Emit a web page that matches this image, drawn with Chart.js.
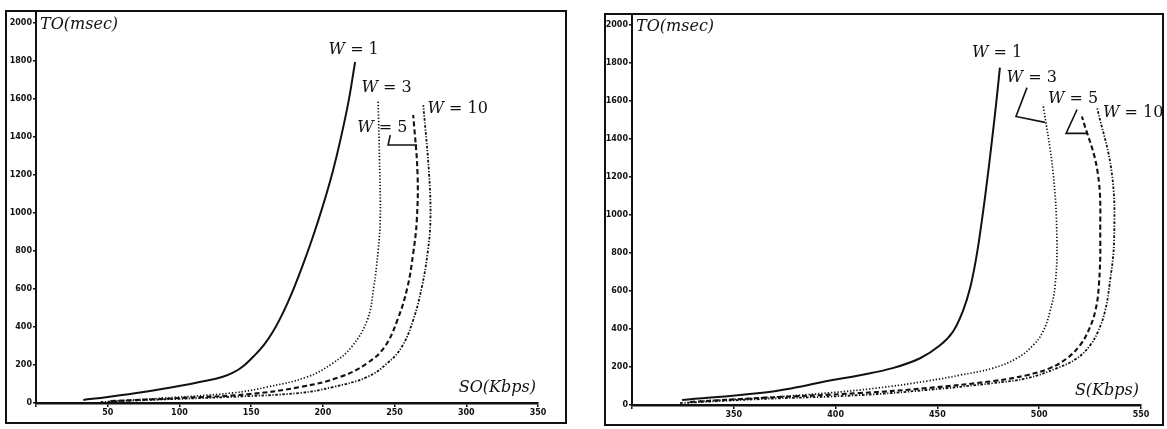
<!DOCTYPE html>
<html>
<head>
<meta charset="utf-8">
<script src="https://cdn.jsdelivr.net/npm/chart.js@4.4.1/dist/chart.umd.min.js"></script>
<style>
  html, body { margin: 0; background: #fff; }
  #wrap { position: relative; width: 1167px; height: 429px; }
  #wrap canvas { position: absolute; top: 0; }
</style>
</head>
<body>
<div id="wrap">
  <canvas id="chartSO" width="580" height="429" style="left:0"></canvas>
  <canvas id="chartS" width="587" height="429" style="left:580px"></canvas>
</div>
<script>
//Data: TO (msec) against offered load, one curve per window size W
const windows = [1, 3, 5, 10];

//left panel, SO (Kbps)
const so_w1_x = [33, 50, 79.5, 114, 137, 154, 164.6, 175.7, 186, 196, 207, 217, 222.5];
const so_w1_y = [16, 32, 63, 110, 158, 263, 368, 532, 726, 942, 1221, 1552, 1795];
const so_w3_x = [52, 79, 137, 161, 189, 207, 220, 231, 235.5, 238.5, 240, 239.5, 238.5];
const so_w3_y = [10, 21, 53, 84, 137, 210, 295, 437, 610, 800, 963, 1279, 1595];
const so_w5_x = [52, 100, 149, 184, 212, 231, 243, 252, 259, 263, 265.5, 266, 263];
const so_w5_y = [10, 26, 47, 84, 137, 210, 295, 437, 610, 789, 963, 1210, 1516];
const so_w10_x = [45, 79, 135, 184, 207, 231, 245, 255, 263, 269, 273, 275, 274, 270];
const so_w10_y = [5, 16, 32, 53, 84, 137, 210, 295, 437, 610, 789, 963, 1210, 1568];

//right panel, S (Kbps)
const s_w1_x = [324.6, 362.9, 379, 395.8, 412, 428, 441.5, 451.3, 457.7, 462.6, 466, 469, 471.4, 473.9, 476.3, 478.8, 480.7];
const s_w1_y = [26, 63, 89, 126, 157, 194, 246, 314, 387, 497, 613, 770, 937, 1136, 1346, 1581, 1775];
const s_w3_x = [333.4, 362.9, 395.8, 420.3, 444.9, 461, 477.3, 489, 497, 501.9, 505.3, 507.8, 508.7, 506.8, 501.9];
const s_w3_y = [21, 37, 63, 89, 126, 157, 194, 246, 314, 387, 492, 628, 874, 1225, 1581];
const s_w5_x = [328.5, 362.9, 412, 444.9, 477.3, 494, 505.3, 513.7, 520, 524, 527.5, 529.3, 530, 528.7, 521];
const s_w5_y = [16, 37, 63, 89, 126, 157, 194, 246, 314, 387, 492, 628, 874, 1225, 1518];
const s_w10_x = [323.6, 362.9, 412, 444.9, 477.3, 494, 508.8, 518.6, 525, 528.9, 532.3, 534.5, 536.8, 535.6, 528.4];
const s_w10_y = [10, 31, 52, 79, 115, 141, 194, 246, 314, 387, 492, 628, 874, 1225, 1566];

//axis ranges and tick steps
const so_ticks = [0, 350, 50];
const s_ticks = [300, 550, 50];
const to_ticks = [0, 2000, 200];

//curve labels "W = n" (data coords of the label's left/middle) and their pointer lines
const so_label_pos = [[204, 1858], [227, 1658], [224, 1447], [273, 1547]];
const so_pointers = [[[247, 1410], [245.5, 1358], [265.7, 1358]]];
const s_label_pos = [[467, 1854], [484, 1723], [504.3, 1613], [531.3, 1539]];
const s_pointers = [[[494, 1670], [488.6, 1518], [502.8, 1487]], [[518.6, 1555], [513.2, 1429], [523.5, 1429]]];

const ink = '#111';
const serif = "'DejaVu Serif', 'Liberation Serif', serif";

//line style for each W
const styles = [
  { borderWidth: 2, borderDash: [] },
  { borderWidth: 1.7, borderDash: [1.3, 1.9] },
  { borderWidth: 2.1, borderDash: [5, 3] },
  { borderWidth: 1.8, borderDash: [2.6, 1.6, 1.2, 1.6] }
];

function toPoints(xs, ys) {
  return xs.map((x, i) => ({ x: x, y: ys[i] }));
}

function makeDatasets(series) {
  return series.map((s, i) => ({
    label: 'W = ' + windows[i],
    data: toPoints(s[0], s[1]),
    showLine: true,
    borderColor: ink,
    borderWidth: styles[i].borderWidth,
    borderDash: styles[i].borderDash,
    pointRadius: 0,
    tension: 0.4,
    fill: false
  }));
}

//outer box round each panel
const framePlugin = {
  id: 'frame',
  afterDraw(chart, args, opts) {
    const c = chart.ctx;
    c.save();
    c.strokeStyle = ink;
    c.lineWidth = 2;
    c.strokeRect(opts.x, opts.y, opts.w, opts.h);
    c.restore();
  }
};

//axis names written inside the plot corners
const axisNamePlugin = {
  id: 'axisNames',
  afterDraw(chart, args, opts) {
    const c = chart.ctx, a = chart.chartArea;
    const yTop = chart.scales.y.getPixelForValue(2000);
    c.save();
    c.fillStyle = ink;
    c.font = 'italic 16px ' + serif;
    c.textBaseline = 'middle';
    c.textAlign = 'left';
    c.fillText(opts.yName, a.left + 4, yTop + 2);
    c.textAlign = 'right';
    c.fillText(opts.xName, a.right - 2, a.bottom - opts.xNameUp);
    c.restore();
  }
};

//"W = n" labels and the small pointer lines
const curveLabelPlugin = {
  id: 'curveLabels',
  afterDraw(chart, args, opts) {
    const c = chart.ctx, xs = chart.scales.x, ys = chart.scales.y;
    c.save();
    c.fillStyle = ink;
    c.textBaseline = 'middle';
    c.textAlign = 'left';
    opts.pos.forEach((p, i) => {
      let px = xs.getPixelForValue(p[0]), py = ys.getPixelForValue(p[1]);
      c.font = 'italic 16px ' + serif;
      c.fillText('W', px, py);
      px += c.measureText('W').width;
      c.font = '16px ' + serif;
      c.fillText(' = ' + windows[i], px, py);
    });
    c.strokeStyle = ink;
    c.lineWidth = 1.6;
    opts.pointers.forEach(line => {
      c.beginPath();
      line.forEach((p, j) => {
        const px = xs.getPixelForValue(p[0]), py = ys.getPixelForValue(p[1]);
        if (j == 0) c.moveTo(px, py); else c.lineTo(px, py);
      });
      c.stroke();
    });
    c.restore();
  }
};

function makeChart(id, series, xt, yMax, pad, frame, names, labels) {
  const tickFont = { family: "'DejaVu Sans', sans-serif", size: 8, weight: 'bold' };
  return new Chart(document.getElementById(id), {
    type: 'scatter',
    data: { datasets: makeDatasets(series) },
    options: {
      responsive: false,
      animation: false,
      layout: { padding: pad },
      plugins: {
        legend: { display: false },
        tooltip: { enabled: false },
        frame: frame,
        axisNames: names,
        curveLabels: labels
      },
      scales: {
        x: {
          type: 'linear',
          min: xt[0], max: xt[1],
          ticks: {
            stepSize: xt[2], color: ink, font: tickFont, padding: 1, maxRotation: 0,
            callback: v => (v == xt[0] ? '' : String(v))
          },
          grid: { drawOnChartArea: false, tickLength: 4, color: ink, lineWidth: 1.5 },
          border: { color: ink, width: 2.5 },
          afterFit: s => { s.height = 20 }
        },
        y: {
          type: 'linear',
          min: to_ticks[0], max: yMax,
          afterBuildTicks: s => { s.ticks = s.ticks.filter(t => t.value <= to_ticks[1]) },
          ticks: { stepSize: to_ticks[2], color: ink, font: tickFont, padding: 1, callback: v => String(v) },
          grid: { drawOnChartArea: false, tickLength: 3, color: ink, lineWidth: 1.5 },
          border: { color: ink, width: 2 },
          afterFit: s => { s.width = 30 }
        }
      }
    },
    plugins: [framePlugin, axisNamePlugin, curveLabelPlugin]
  });
}

//Start Chart Setup
const chartSO = makeChart('chartSO',
  [[so_w1_x, so_w1_y], [so_w3_x, so_w3_y], [so_w5_x, so_w5_y], [so_w10_x, so_w10_y]],
  so_ticks, 2058,
  { left: 6, right: 42, top: 12, bottom: 6 },
  { x: 6, y: 11, w: 560, h: 412 },
  { yName: 'TO(msec)', xName: 'SO(Kbps)', xNameUp: 15 },
  { pos: so_label_pos, pointers: so_pointers });

const chartS = makeChart('chartS',
  [[s_w1_x, s_w1_y], [s_w3_x, s_w3_y], [s_w5_x, s_w5_y], [s_w10_x, s_w10_y]],
  s_ticks, 2052,
  { left: 22, right: 26, top: 15, bottom: 4 },
  { x: 25, y: 14, w: 558, h: 411 },
  { yName: 'TO(msec)', xName: 'S(Kbps)', xNameUp: 14 },
  { pos: s_label_pos, pointers: s_pointers });
//End Chart Setup
</script>
</body>
</html>
